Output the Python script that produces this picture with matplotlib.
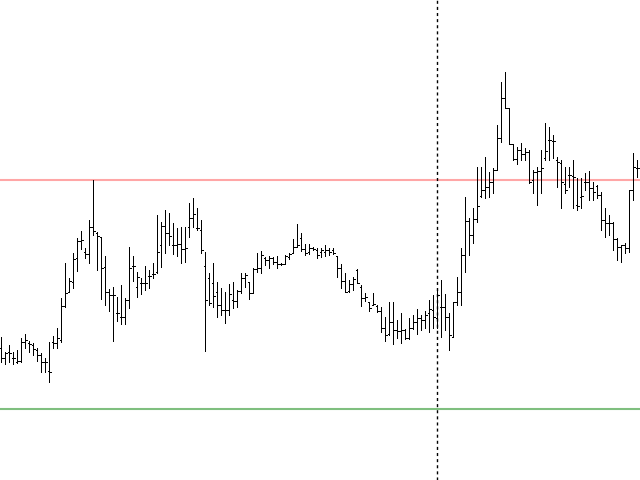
import matplotlib
matplotlib.use("Agg")
import matplotlib.pyplot as plt
import numpy as np

# OHLC bars (arbitrary price units)
highs = [163, 148, 155, 148, 150, 162, 166, 159, 157, 152,
         147, 142, 158, 164, 172, 202, 237, 222, 247, 262,
         269, 252, 280, 320, 268, 263, 244, 211, 213, 203,
         215, 202, 253, 244, 228, 222, 234, 230, 237, 285,
         278, 290, 287, 277, 272, 273, 273, 297, 302, 292,
         280, 248, 227, 237, 218, 212, 208, 216, 218, 210,
         227, 227, 218, 232, 247, 249, 243, 244, 243, 244,
         237, 245, 247, 261, 276, 267, 256, 256, 253, 252,
         252, 255, 252, 252, 244, 236, 227, 220, 223, 231,
         215, 207, 198, 207, 195, 193, 183, 198, 198, 180,
         187, 171, 182, 185, 191, 185, 189, 200, 205, 210,
         220, 206, 187, 198, 223, 252, 303, 282, 292, 333,
         333, 343, 328, 332, 375, 418, 428, 392, 356, 353,
         357, 352, 350, 330, 333, 350, 377, 373, 365, 343,
         340, 333, 333, 340, 322, 322, 327, 329, 318, 315,
         308, 292, 285, 278, 262, 255, 257, 310, 347, 340]
lows = [138, 136, 138, 136, 137, 138, 152, 148, 145, 139,
        128, 128, 118, 152, 152, 158, 193, 208, 212, 229,
        251, 242, 237, 265, 230, 201, 195, 189, 159, 179,
        176, 176, 192, 219, 203, 206, 210, 212, 222, 227,
        233, 247, 255, 246, 244, 237, 238, 263, 273, 270,
        247, 149, 195, 193, 183, 185, 177, 185, 192, 193,
        207, 213, 201, 207, 228, 227, 235, 232, 236, 232,
        235, 236, 241, 247, 253, 249, 245, 246, 250, 242,
        243, 244, 245, 246, 223, 212, 208, 208, 210, 217,
        194, 199, 189, 195, 188, 168, 159, 165, 156, 162,
        157, 161, 161, 171, 166, 170, 172, 168, 172, 172,
        163, 170, 150, 163, 195, 195, 228, 245, 257, 278,
        303, 302, 303, 307, 330, 358, 392, 356, 340, 336,
        340, 340, 317, 307, 295, 307, 340, 340, 342, 313,
        292, 307, 313, 292, 290, 292, 310, 300, 300, 302,
        270, 263, 265, 250, 240, 238, 247, 248, 300, 323]
opens = [152, 142, 148, 142, 138, 139, 158, 157, 155, 150,
         145, 138, 129, 158, 157, 160, 194, 208, 218, 242,
         259, 248, 246, 273, 267, 263, 233, 208, 205, 187,
         183, 183, 200, 234, 213, 217, 217, 224, 226, 228,
         255, 274, 267, 255, 255, 256, 251, 273, 282, 272,
         270, 234, 222, 217, 208, 195, 190, 190, 200, 199,
         209, 222, 218, 207, 231, 232, 242, 240, 242, 238,
         236, 236, 243, 247, 253, 262, 251, 248, 252, 250,
         248, 248, 250, 250, 244, 232, 219, 209, 216, 230,
         213, 202, 198, 195, 194, 189, 172, 166, 178, 170,
         169, 170, 162, 172, 178, 182, 180, 187, 190, 182,
         193, 193, 183, 163, 198, 208, 245, 279, 265, 281,
         304, 310, 313, 318, 330, 362, 402, 392, 356, 341,
         350, 346, 348, 320, 328, 329, 342, 360, 359, 340,
         337, 316, 325, 324, 295, 303, 318, 318, 312, 314,
         305, 280, 277, 277, 261, 253, 255, 252, 310, 332]
closes = [142, 147, 147, 142, 139, 158, 160, 156, 151, 145,
          138, 138, 128, 157, 162, 194, 207, 219, 241, 259,
          260, 246, 273, 269, 264, 232, 208, 205, 205, 187,
          183, 200, 232, 234, 223, 217, 217, 224, 226, 248,
          274, 267, 264, 255, 256, 251, 252, 282, 286, 272,
          250, 200, 197, 204, 195, 190, 190, 206, 199, 209,
          222, 225, 207, 231, 232, 245, 240, 242, 238, 236,
          236, 244, 246, 253, 255, 251, 247, 252, 251, 245,
          250, 250, 248, 247, 232, 219, 208, 216, 221, 217,
          202, 203, 192, 196, 189, 172, 165, 178, 170, 169,
          170, 162, 172, 178, 182, 180, 185, 191, 183, 205,
          193, 183, 165, 198, 208, 245, 279, 265, 281, 294,
          310, 313, 318, 330, 362, 402, 392, 356, 341, 350,
          346, 348, 318, 328, 329, 332, 349, 360, 359, 338,
          318, 310, 325, 323, 294, 304, 318, 312, 308, 305,
          280, 277, 277, 261, 253, 255, 252, 310, 333, 332]

resistance = 320
support = 91
marker_bar = 109

n = len(highs)
x = np.arange(n)

fig = plt.figure(figsize=(6.4, 4.8), dpi=100)
ax = fig.add_axes([0, 0, 1, 1])
ax.axis("off")

ax.axhline(resistance, color="red", alpha=0.35, lw=1.5, zorder=1)
ax.axhline(support, color="green", alpha=0.5, lw=1.5, zorder=1)

bar_lw = 0.5
ax.vlines(x, lows, highs, color="black", lw=bar_lw, antialiased=False, zorder=3)
ax.hlines(opens, x - 0.3, x, color="black", lw=bar_lw, antialiased=False, zorder=3)
ax.hlines(closes, x, x + 0.3, color="black", lw=bar_lw, antialiased=False, zorder=3)

ax.axvline(marker_bar, color="black", lw=1, linestyle=(0, (2.2, 2.2)), zorder=4)

ax.set_xlim(-0.33, n - 0.33)
ax.set_ylim(20, 500)

fig.savefig("out.png", dpi=100)
